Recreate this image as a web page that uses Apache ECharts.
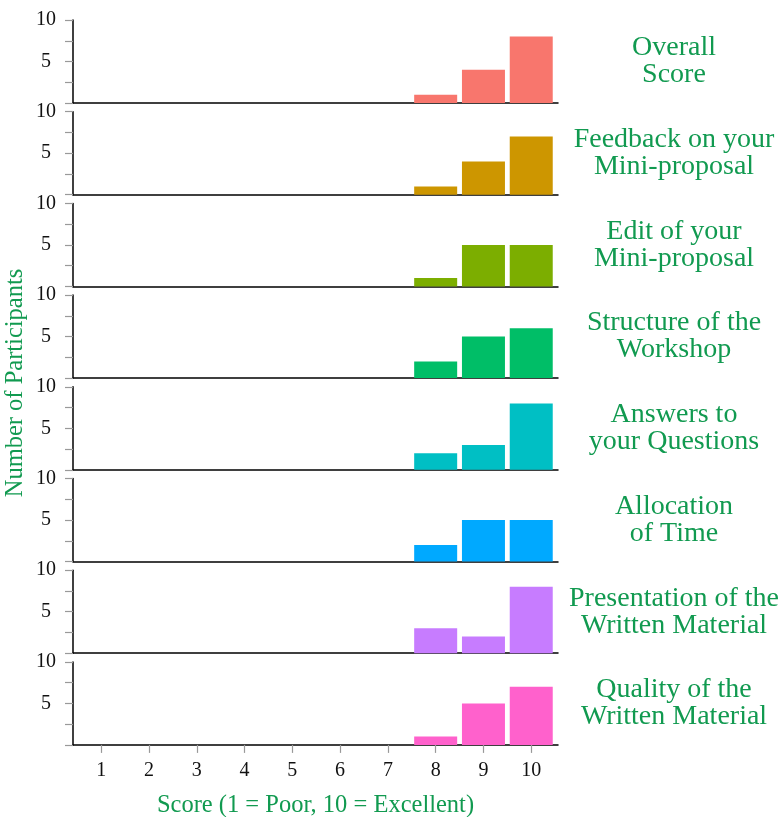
<!DOCTYPE html>
<html>
<head>
<meta charset="utf-8">
<script src="https://cdn.jsdelivr.net/npm/echarts@6/dist/echarts.min.js"></script>
<style>html,body{margin:0;padding:0;background:#fff}#c{width:781px;height:817px}</style>
</head>
<body>
<div id="c"></div>
<script>
// ---- data ----
const scoreTicks = [1, 2, 3, 4, 5, 6, 7, 8, 9, 10];
const barScores = [8, 9, 10];
const overallScore = [1, 4, 8];
const feedbackMiniProposal = [1, 4, 7];
const editMiniProposal = [1, 5, 5];
const structureWorkshop = [2, 5, 6];
const answersQuestions = [2, 3, 8];
const allocationTime = [2, 5, 5];
const presentationMaterial = [3, 2, 8];
const qualityMaterial = [1, 5, 7];
const panelLabels = [
  'Overall\nScore',
  'Feedback on your\nMini-proposal',
  'Edit of your\nMini-proposal',
  'Structure of the\nWorkshop',
  'Answers to\nyour Questions',
  'Allocation\nof Time',
  'Presentation of the\nWritten Material',
  'Quality of the\nWritten Material'
];
const panelValues = [overallScore, feedbackMiniProposal, editMiniProposal, structureWorkshop,
  answersQuestions, allocationTime, presentationMaterial, qualityMaterial];
const panelColors = ['#F8766D', '#CD9600', '#7CAE00', '#00BE67', '#00BFC4', '#00A9FF', '#C77CFF', '#FF61CC'];
const yTickLabels = [5, 10];
const xTitle = 'Score (1 = Poor, 10 = Excellent)';
const yTitle = 'Number of Participants';

// ---- layout ----
const FONT = 'Liberation Serif';
const GREEN = '#119a50';
const n = panelValues.length;
const top0 = 20, step = 91.7, ph = 83, left = 73, right = 223;

const grids = [], xAxes = [], yAxes = [], series = [], graphics = [];
for (let i = 0; i < n; i++) {
  const last = i === n - 1;
  grids.push({ left: left, right: right, top: top0 + i * step, height: ph, outerBoundsMode: 'none', containLabel: false });
  xAxes.push({
    type: 'value', gridIndex: i, min: 0.41, max: 10.56,
    axisLine: { show: true, onZero: false, lineStyle: { color: '#000', width: 1.5 } },
    axisTick: { show: last, customValues: scoreTicks, length: 8, lineStyle: { color: '#999', width: 1.2 } },
    axisLabel: { show: last, customValues: scoreTicks, margin: 16, color: '#111', fontFamily: FONT, fontSize: 20 },
    splitLine: { show: false },
    name: last ? xTitle : '', nameLocation: 'middle', nameGap: 48,
    nameTextStyle: { color: GREEN, fontFamily: FONT, fontSize: 24.5 }
  });
  yAxes.push({
    type: 'value', gridIndex: i, min: 0, max: 10, interval: 2.5,
    axisLine: { show: true, lineStyle: { color: '#000', width: 1.5 } },
    axisTick: { show: true, length: 8, lineStyle: { color: '#999', width: 1.2 } },
    axisLabel: {
      show: true, align: 'center', margin: 27, color: '#111', fontFamily: FONT, fontSize: 20,
      formatter: v => (yTickLabels.indexOf(v) >= 0 ? String(v) : '')
    },
    splitLine: { show: false }
  });
  series.push({
    type: 'bar', xAxisIndex: i, yAxisIndex: i, barWidth: 43,
    itemStyle: { color: panelColors[i] },
    data: barScores.map((s, k) => [s, panelValues[i][k]])
  });
  graphics.push({
    type: 'text', x: 674, y: top0 + i * step + ph / 2,
    style: {
      text: panelLabels[i], fill: GREEN, font: '28px "' + FONT + '"',
      align: 'center', verticalAlign: 'middle', lineHeight: 27
    }
  });
}
graphics.push({
  type: 'text', x: 16, y: 383, rotation: Math.PI / 2,
  style: { text: yTitle, fill: GREEN, font: '24.5px "' + FONT + '"', align: 'center', verticalAlign: 'middle' }
});

const chart = echarts.init(document.getElementById('c'), null, { renderer: 'canvas' });
chart.setOption({
  animation: false,
  grid: grids, xAxis: xAxes, yAxis: yAxes, series: series, graphic: graphics
});
</script>
</body>
</html>
